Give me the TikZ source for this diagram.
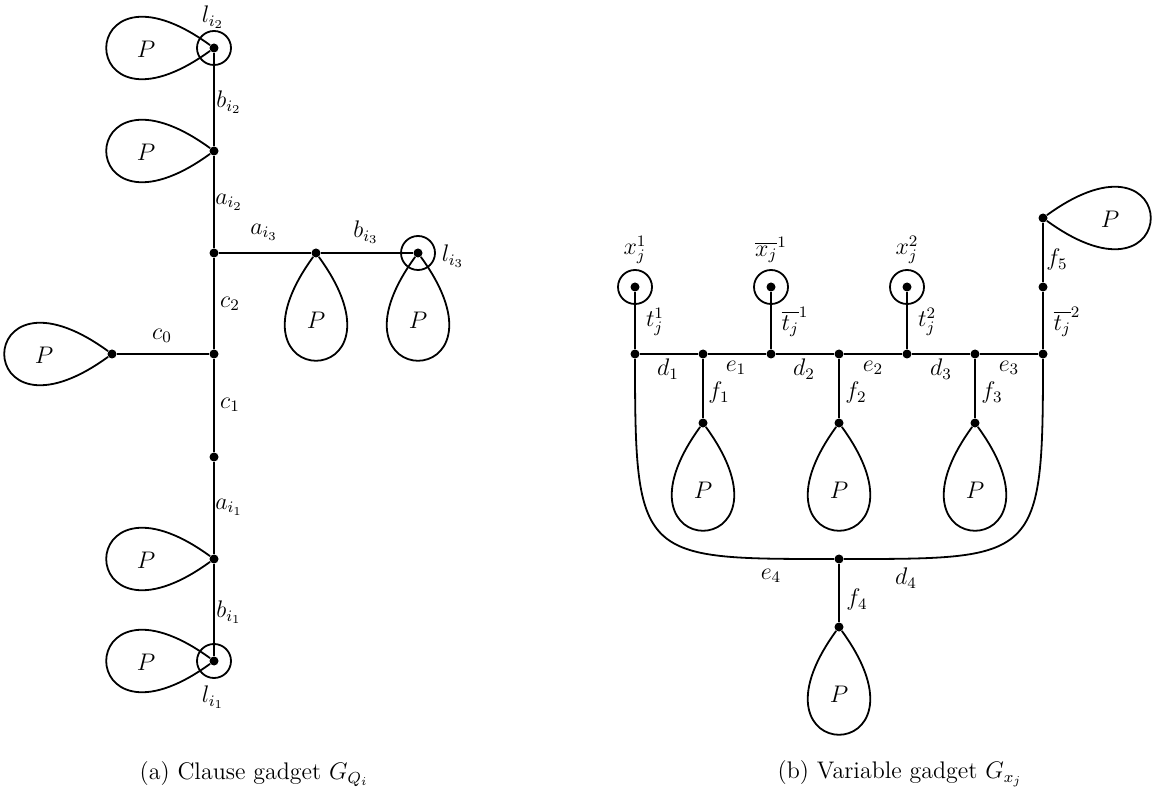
\RequirePackage{fix-cm}
\documentclass[tikz,border=0pt]{standalone}
\usetikzlibrary{calc}
\begin{document}
\begin{tikzpicture}[x=0.5pt,y=0.5pt,
  every node/.style={font=\fontsize{12}{14}\selectfont},
  dot/.style={circle,fill=black,inner sep=0pt,minimum size=4.5pt},
  edge/.style={line width=0.9pt},
  heavy/.style={line width=1.3pt},
  lab/.style={inner sep=0pt},
  ploop/.style={line width=0.9pt}
]
\useasboundingbox (0,0) rectangle (1152,-807);

% ---------------- (a) clause gadget ----------------
\node[dot] (L2) at (214,-48) {};
\node[dot] (A2) at (214,-151) {};
\node[dot] (J)  at (214,-253) {};
\node[dot] (C)  at (214,-354) {};
\node[dot] (M)  at (214,-457) {};
\node[dot] (A1) at (214,-559) {};
\node[dot] (L1) at (214,-661) {};
\node[dot] (A3) at (316,-253) {};
\node[dot] (L3) at (418,-253) {};
\node[dot] (C0) at (112,-354) {};

\draw[edge] (L2) -- (A2) -- (J);
\draw[heavy] (J) -- (C) -- (M);
\draw[edge] (M) -- (A1) -- (L1);
\draw[edge] (J) -- (A3) -- (L3);
\draw[edge] (C0) -- (C);

\draw[edge] (L2) circle[radius=8.5pt];
\draw[edge] (L1) circle[radius=8.5pt];
\draw[edge] (L3) circle[radius=8.5pt];

\foreach \v in {L2,A2,A1,L1,C0}
  \draw[ploop] (\v) .. controls ($(\v)+(216:88pt)$) and ($(\v)+(144:88pt)$) .. (\v);
\foreach \v in {A3,L3}
  \draw[ploop] (\v) .. controls ($(\v)+(234:88pt)$) and ($(\v)+(306:88pt)$) .. (\v);

\node[lab] (pL2) at (146,-49) {$P$};
\node[lab] (pA2) at (146,-152) {$P$};
\node[lab] (pA1) at (146,-560) {$P$};
\node[lab] (pL1) at (146,-662) {$P$};
\node[lab] (pC0) at (44,-355) {$P$};
\node[lab] (pA3) at (316,-320) {$P$};
\node[lab] (pL3) at (418,-320) {$P$};

\node[lab] (tl2) at (213,-17) {$l_{i_2}$};
\node[lab] (tb2) at (229,-102) {$b_{i_2}$};
\node[lab] (ta2) at (229,-202) {$a_{i_2}$};
\node[lab] (ta3) at (264,-232) {$a_{i_3}$};
\node[lab] (tb3) at (366,-232) {$b_{i_3}$};
\node[lab] (tl3) at (453,-256) {$l_{i_3}$};
\node[lab] (tc2) at (230,-304) {$c_2$};
\node[lab] (tc0) at (162,-336) {$c_0$};
\node[lab] (tc1) at (230,-405) {$c_1$};
\node[lab] (ta1) at (229,-507) {$a_{i_1}$};
\node[lab] (tb1) at (229,-612) {$b_{i_1}$};
\node[lab] (tl1) at (213,-697) {$l_{i_1}$};

\node (capa) at (254,-774) {(a) Clause gadget $G_{Q_i}$};

% ---------------- (b) variable gadget ----------------
\node[dot] (R1) at (635,-354) {};
\node[dot] (R2) at (703,-354) {};
\node[dot] (R3) at (771,-354) {};
\node[dot] (R4) at (839,-354) {};
\node[dot] (R5) at (907,-354) {};
\node[dot] (R6) at (975,-354) {};
\node[dot] (R7) at (1043,-354) {};
\node[dot] (X1) at (635,-287) {};
\node[dot] (X2) at (771,-287) {};
\node[dot] (X3) at (907,-287) {};
\node[dot] (T2) at (1043,-287) {};
\node[dot] (F5) at (1043,-218) {};
\node[dot] (F1) at (703,-423) {};
\node[dot] (F2) at (839,-423) {};
\node[dot] (F3) at (975,-423) {};
\node[dot] (G)  at (839,-559) {};
\node[dot] (F4) at (839,-627) {};

\draw[edge] (R1) -- (R2) -- (R3) -- (R4) -- (R5) -- (R6) -- (R7);
\draw[edge] (R1) -- (X1);
\draw[edge] (R3) -- (X2);
\draw[edge] (R5) -- (X3);
\draw[edge] (R7) -- (T2) -- (F5);
\draw[edge] (R2) -- (F1);
\draw[edge] (R4) -- (F2);
\draw[edge] (R6) -- (F3);
\draw[edge] (G) -- (F4);
\draw[edge] (R1) .. controls (635,-560) and (640,-559) .. (G);
\draw[edge] (R7) .. controls (1043,-560) and (1038,-559) .. (G);

\draw[edge] (X1) circle[radius=8.5pt];
\draw[edge] (X2) circle[radius=8.5pt];
\draw[edge] (X3) circle[radius=8.5pt];

\foreach \v in {F1,F2,F3,F4}
  \draw[ploop] (\v) .. controls ($(\v)+(234:88pt)$) and ($(\v)+(306:88pt)$) .. (\v);
\draw[ploop] (F5) .. controls ($(F5)+(36:88pt)$) and ($(F5)+(-36:88pt)$) .. (F5);

\node[lab] (pF1) at (703,-490) {$P$};
\node[lab] (pF2) at (839,-490) {$P$};
\node[lab] (pF3) at (975,-490) {$P$};
\node[lab] (pF4) at (839,-694) {$P$};
\node[lab] (pF5) at (1110,-219) {$P$};

\node[lab] (tx1) at (635,-250) {$x_j^1$};
\node[lab] (tx2) at (771,-250) {$\overline{x_j}^1$};
\node[lab] (tx3) at (907,-250) {$x_j^2$};
\node[lab] (tt1) at (655,-322) {$t_j^1$};
\node[lab] (tt2) at (795,-322) {$\overline{t_j}^1$};
\node[lab] (tt3) at (927,-322) {$t_j^2$};
\node[lab] (tt4) at (1067,-322) {$\overline{t_j}^2$};
\node[lab] (tf5) at (1057,-260) {$f_5$};
\node[lab] (td1) at (668,-369) {$d_1$};
\node[lab] (te1) at (736,-368) {$e_1$};
\node[lab] (td2) at (804,-369) {$d_2$};
\node[lab] (te2) at (873,-368) {$e_2$};
\node[lab] (td3) at (941,-369) {$d_3$};
\node[lab] (te3) at (1009,-368) {$e_3$};
\node[lab] (tf1) at (719,-393) {$f_1$};
\node[lab] (tf2) at (856,-393) {$f_2$};
\node[lab] (tf3) at (992,-393) {$f_3$};
\node[lab] (te4) at (771,-576) {$e_4$};
\node[lab] (td4) at (906,-578) {$d_4$};
\node[lab] (tf4) at (857,-600) {$f_4$};

\node (capb) at (900,-774) {(b) Variable gadget $G_{x_j}$};
\end{tikzpicture}
\end{document}
